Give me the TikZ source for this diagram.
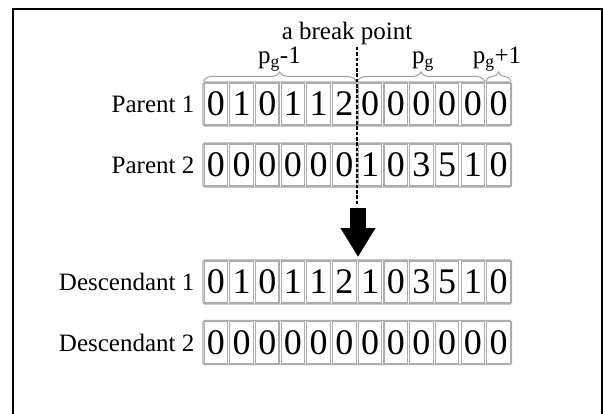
\documentclass[tikz,border=0pt]{standalone}
\usepackage{fontspec}
\setmainfont{Liberation Serif}
\usepackage{tikz}
\usetikzlibrary{arrows.meta}
\usetikzlibrary{positioning,decorations.pathreplacing}
\tikzset{>=stealth}
\tikzset{cell/.style={draw=gray!65, line width=1.1pt, minimum width=23.5pt, minimum height=42pt, inner sep=0pt, font=\fontsize{36}{36}\selectfont}}
\tikzset{rowbox/.style={draw=gray!65, line width=1.4pt, rounded corners=1.5pt}}
\tikzset{rowlabel/.style={font=\fontsize{25}{30}\selectfont, inner sep=0pt}}
\tikzset{genebrace/.style={draw=gray!75, line width=1pt, decorate, decoration={brace, amplitude=9pt}}}

\begin{document}
\begin{tikzpicture}[x=1pt, y=-1pt]
        \useasboundingbox (0,0) rectangle (604,414);
        % Frame
        \draw [line width=2pt] (13,414) -- (13,9) -- (601.5,9) -- (601.5,414);

        % Chromosomes
        \foreach \d [count=\i] in {0,1,0,1,1,2,0,0,0,0,0,0}
          \node[cell] (pa\i) at ({203+25.7*(\i-0.5)},104) {\d};
        \foreach \d [count=\i] in {0,0,0,0,0,0,1,0,3,5,1,0}
          \node[cell] (pb\i) at ({203+25.7*(\i-0.5)},165) {\d};
        \foreach \d [count=\i] in {0,1,0,1,1,2,1,0,3,5,1,0}
          \node[cell] (da\i) at ({203+25.7*(\i-0.5)},282) {\d};
        \foreach \d [count=\i] in {0,0,0,0,0,0,0,0,0,0,0,0}
          \node[cell] (db\i) at ({203+25.7*(\i-0.5)},342.5) {\d};
        \draw [rowbox] (203,82) rectangle (511.4,126);
        \draw [rowbox] (203,143) rectangle (511.4,187);
        \draw [rowbox] (203,260) rectangle (511.4,304);
        \draw [rowbox] (203,320.5) rectangle (511.4,364.5);

        % Labels
        \node[rowlabel, anchor=east, left=9pt of pa1] (lpa) {Parent 1};
        \node[rowlabel, anchor=east, left=9pt of pb1] (lpb) {Parent 2};
        \node[rowlabel, anchor=east, left=9pt of da1] (lda) {Descendant 1};
        \node[rowlabel, anchor=east, left=9pt of db1] (ldb) {Descendant 2};

        % Braces
        \draw [genebrace] (203.5,81) -- (356,81);
        \draw [genebrace] (357.5,81) -- (484.5,81);
        \draw [genebrace] (486,81) -- (511,81);
        \node[rowlabel, anchor=base] (gprev) at (279.5,64) {p\textsubscript{g}-1};
        \node[rowlabel, anchor=base] (gcur) at (423,64) {p\textsubscript{g}};
        \node[rowlabel, anchor=base] (gnext) at (497,64) {p\textsubscript{g}+1};

        % Break point
        \node[rowlabel, anchor=base] (brk) at (347,39.5) {a break point};
        \coordinate (cuttop) at (357,47);
        \coordinate (cutbot) at (357,204);
        \draw [line width=2pt, dash pattern=on 3.5pt off 1.8pt] (cuttop) -- (cutbot);
        \coordinate (arrtop) at (358,208);
        \coordinate (arrtip) at (358,257);
        \draw [line width=16pt, -{Triangle[width=33pt, length=29pt]}] (arrtop) -- (arrtip);
      \end{tikzpicture}
\end{document}
